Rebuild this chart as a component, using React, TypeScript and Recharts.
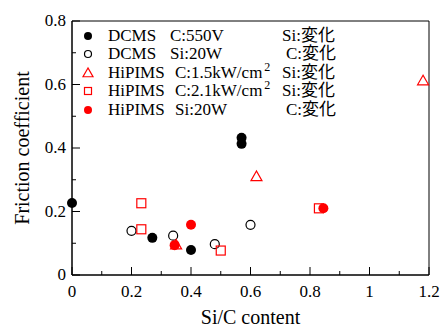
import React from "react";
import { ScatterChart, Scatter, XAxis, YAxis, Legend, ReferenceArea } from "recharts";

// Si/C content vs friction coefficient
const dcmsC550 = [
  { x: 0, y: 0.227 },
  { x: 0.27, y: 0.117 },
  { x: 0.4, y: 0.079 },
  { x: 0.57, y: 0.432 },
  { x: 0.57, y: 0.413 },
];
const dcmsSi20 = [
  { x: 0.2, y: 0.139 },
  { x: 0.34, y: 0.124 },
  { x: 0.48, y: 0.097 },
  { x: 0.6, y: 0.158 },
];
const hipims15 = [
  { x: 0.35, y: 0.095 },
  { x: 0.62, y: 0.31 },
  { x: 1.18, y: 0.612 },
];
const hipims21 = [
  { x: 0.233, y: 0.226 },
  { x: 0.233, y: 0.144 },
  { x: 0.5, y: 0.077 },
  { x: 0.83, y: 0.21 },
];
const hipimsSi20 = [
  { x: 0.345, y: 0.094 },
  { x: 0.4, y: 0.158 },
  { x: 0.845, y: 0.21 },
];

const xTicks = [0, 0.1, 0.2, 0.3, 0.4, 0.5, 0.6, 0.7, 0.8, 0.9, 1, 1.1, 1.2];
const yTicks = [0, 0.1, 0.2, 0.3, 0.4, 0.5, 0.6, 0.7, 0.8];

const legendRows = [
  { name: "DCMS", cond: "C:550V", vary: "Si:変化", sup: false, mark: "dot" },
  { name: "DCMS", cond: "Si:20W", vary: "C:変化", sup: false, mark: "ring" },
  { name: "HiPIMS", cond: "C:1.5kW/cm", vary: "Si:変化", sup: true, mark: "tri" },
  { name: "HiPIMS", cond: "C:2.1kW/cm", vary: "Si:変化", sup: true, mark: "sq" },
  { name: "HiPIMS", cond: "Si:20W", vary: "C:変化", sup: false, mark: "reddot" },
];

const RED = "#ff0000";
const FONT = "Liberation Serif, Noto Sans CJK JP, serif";

const isMajor = (v: number) => Math.round(v * 10) % 2 === 0;
const fmt = (v: number) => String(Math.round(v * 10) / 10);

const XTick = (props: any) => {
  const { x, y, payload } = props;
  const v = payload.value;
  const major = isMajor(v);
  return (
    <g>
      <line x1={x} x2={x} y1={y} y2={y - (major ? 8 : 4)} stroke="#000" />
      {major && (
        <text x={x} y={y + 22} textAnchor="middle" fontSize={17} style={{ fontFamily: FONT }} fill="#000">
          {fmt(v)}
        </text>
      )}
    </g>
  );
};

const YTick = (props: any) => {
  const { x, y, payload } = props;
  const v = payload.value;
  const major = isMajor(v);
  return (
    <g>
      <line x1={x} x2={x + (major ? 8 : 4)} y1={y} y2={y} stroke="#000" />
      {major && (
        <text x={x - 6} y={y + 5} textAnchor="end" fontSize={17} style={{ fontFamily: FONT }} fill="#000">
          {fmt(v)}
        </text>
      )}
    </g>
  );
};

const Marker = ({ kind, cx, cy, big }: { kind: string; cx: number; cy: number; big: boolean }) => {
  const r = big ? 5 : 4;
  switch (kind) {
    case "dot":
      return <circle cx={cx} cy={cy} r={r} fill="#000" />;
    case "ring":
      return <circle cx={cx} cy={cy} r={big ? 4.5 : 3.5} fill="none" stroke="#000" strokeWidth={1.2} />;
    case "tri": {
      const s = big ? 5.5 : 5;
      return (
        <polygon
          points={`${cx},${cy - s} ${cx - s},${cy + s * 0.75} ${cx + s},${cy + s * 0.75}`}
          fill="none"
          stroke={RED}
          strokeWidth={1.2}
        />
      );
    }
    case "sq": {
      const s = big ? 4.5 : 3.5;
      return <rect x={cx - s} y={cy - s} width={s * 2} height={s * 2} fill="none" stroke={RED} strokeWidth={1.2} />;
    }
    default:
      return <circle cx={cx} cy={cy} r={r} fill={RED} />;
  }
};

const shapeOf = (kind: string) => (p: any) => <Marker kind={kind} cx={p.cx} cy={p.cy} big />;

const renderLegend = () => (
  <div style={{ position: "relative", width: 260, height: 95, fontFamily: FONT, fontSize: 17, color: "#000" }}>
    {legendRows.map((r, i) => {
      const top = i * 18.4;
      return (
        <div key={i} style={{ position: "absolute", left: 0, top, height: 18, width: 260, lineHeight: "18px", whiteSpace: "nowrap" }}>
          <svg width={16} height={18} style={{ position: "absolute", left: 0, top: 0 }}>
            <Marker kind={r.mark} cx={8} cy={9} big={false} />
          </svg>
          <span style={{ position: "absolute", left: 28 }}>{r.name}</span>
          <span style={{ position: "absolute", left: r.name === "DCMS" ? 90 : 95 }}>
            {r.cond}
            {r.sup && <span style={{ fontSize: 12, position: "relative", top: -7, marginLeft: 2 }}>2</span>}
          </span>
          <span style={{ position: "absolute", left: r.vary.startsWith("Si") ? 202 : 206 }}>{r.vary}</span>
        </div>
      );
    })}
  </div>
);

export default function App() {
  return (
    <div style={{ position: "absolute", left: 0, top: 0, width: 442, height: 329, background: "#fff", fontFamily: FONT }}>
      <ScatterChart width={442} height={329} margin={{ top: 21, right: 13, bottom: 0, left: 0 }} style={{ fontFamily: FONT }}>
        <XAxis
          type="number"
          dataKey="x"
          domain={[0, 1.2]}
          ticks={xTicks}
          interval={0}
          tickSize={0}
          tickMargin={0}
          tick={<XTick />}
          height={54}
          axisLine={{ stroke: "#000" }}
          label={{
            value: "Si/C content",
            position: "insideBottom",
            offset: 5,
            fontSize: 20,
            fill: "#000",
            style: { fontFamily: FONT },
          }}
        />
        <YAxis
          type="number"
          dataKey="y"
          domain={[0, 0.8]}
          ticks={yTicks}
          interval={0}
          tickSize={0}
          tickMargin={0}
          tick={<YTick />}
          width={72}
          axisLine={{ stroke: "#000" }}
          label={{
            value: "Friction coefficient",
            angle: -90,
            position: "insideLeft",
            offset: 22,
            fontSize: 20,
            fill: "#000",
            style: { textAnchor: "middle", fontFamily: FONT },
          }}
        />
        <ReferenceArea x1={0} x2={1.2} y1={0} y2={0.8} fill="none" stroke="#000" strokeWidth={1} />
        <Scatter data={dcmsC550} shape={shapeOf("dot")} isAnimationActive={false} />
        <Scatter data={dcmsSi20} shape={shapeOf("ring")} isAnimationActive={false} />
        <Scatter data={hipims15} shape={shapeOf("tri")} isAnimationActive={false} />
        <Scatter data={hipims21} shape={shapeOf("sq")} isAnimationActive={false} />
        <Scatter data={hipimsSi20} shape={shapeOf("reddot")} isAnimationActive={false} />
        <Legend
          layout="vertical"
          align="center"
          verticalAlign="middle"
          content={renderLegend}
          wrapperStyle={{ left: 80, top: 27, width: 260, height: 95 }}
        />
      </ScatterChart>
    </div>
  );
}
